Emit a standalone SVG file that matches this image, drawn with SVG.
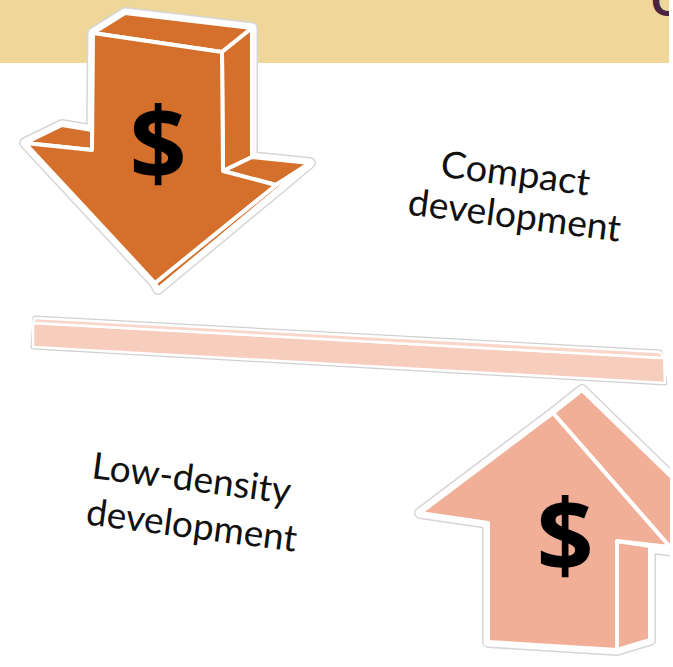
<svg xmlns="http://www.w3.org/2000/svg" width="673" height="667" viewBox="0 0 673 667">
<defs>
<style>
.lbl{font-family:Lato,"Noto Sans","DejaVu Sans",sans-serif;font-size:37px;fill:#111;text-anchor:middle}
.dollar{font-family:"Open Sans","Liberation Sans",sans-serif;font-weight:bold;font-size:100px;fill:#000;text-anchor:middle}
.outline{fill:none;stroke:#d6d6d6;stroke-width:12;stroke-linejoin:round}
.outline2{stroke:#fff;stroke-width:9;stroke-linejoin:round}
.face{stroke:#fff;stroke-width:4;stroke-linejoin:round}
.org{fill:#D4702B}
.sal{fill:#F0AF96}
</style>
<clipPath id="clipR"><rect x="0" y="0" width="670" height="667"/></clipPath>
<clipPath id="clipB"><rect x="0" y="0" width="669" height="63"/></clipPath>
</defs>
<g id="banner">
<rect x="0" y="0" width="669" height="63" fill="#EFD699"/>
<text x="651" y="16" clip-path="url(#clipB)" style="font-family:'Liberation Sans',sans-serif;font-weight:bold;font-size:44px;fill:#4B2342">C</text>
</g>
<g id="down-arrow">
<polygon class="outline" points="93,33 125,13 252,28 252,157 310,163 158,289 155,283 25,143 62,125 92,130"/>
<polygon class="outline2 org" points="93,33 125,13 252,28 252,157 310,163 158,289 155,283 25,143 62,125 92,130"/>
<polygon class="face org" points="93,33 125,13 252,28 222,52"/>
<polygon class="face org" points="222,52 252,28 252,157 223,171"/>
<polygon class="face org" points="223,171 252,157 310,163 276,185"/>
<polygon class="face org" points="276,185 306,166 158,289 155,283"/>
<polygon class="face org" points="25,143 62,125 92,130 92,150"/>
<polygon class="face org" points="93,33 222,52 223,171 276,185 155,283 25,143 92,150"/>
<text class="dollar" x="158" y="180">$</text>
</g>
<g id="bar">
<polygon points="35,318 660,352 665,383 33,347" fill="none" stroke="#d0d0d0" stroke-width="5" stroke-linejoin="round"/>
<polygon points="33,323 664,358 665,383 33,347" fill="#F7CDBE" stroke="#fff" stroke-width="2.5" stroke-linejoin="round"/>
<polygon points="35,318 660,352 664,358 33,323" fill="#F9D6C9" stroke="#fff" stroke-width="2.5" stroke-linejoin="round"/>
</g>
<g id="up-arrow" clip-path="url(#clipR)">
<polygon class="outline" points="420,513 553,413 582,390 690,495 690,553 650,548 650,640 617,650 488,642 488,523"/>
<polygon class="outline2 sal" points="420,513 553,413 582,390 690,495 690,553 650,548 650,640 617,650 488,642 488,523"/>
<polygon class="face sal" points="553,413 582,390 690,495 690,553 670,547"/>
<polygon class="face sal" points="617,541 650,546 650,640 617,650"/>
<polygon class="face sal" points="420,513 553,413 670,547 617,541 617,650 488,642 488,523"/>
<text class="dollar" x="565" y="572">$</text>
</g>
<g id="label-compact">
<text class="lbl" transform="translate(514,186) rotate(7.3)" textLength="150" lengthAdjust="spacingAndGlyphs">Compact</text>
<text class="lbl" transform="translate(513,228) rotate(7.3)" textLength="214" lengthAdjust="spacingAndGlyphs">development</text>
</g>
<g id="label-lowdensity">
<text class="lbl" transform="translate(190,491) rotate(7.4)" textLength="200" lengthAdjust="spacingAndGlyphs">Low-density</text>
<text class="lbl" transform="translate(190,538) rotate(7.4)" textLength="212" lengthAdjust="spacingAndGlyphs">development</text>
</g>
</svg>
